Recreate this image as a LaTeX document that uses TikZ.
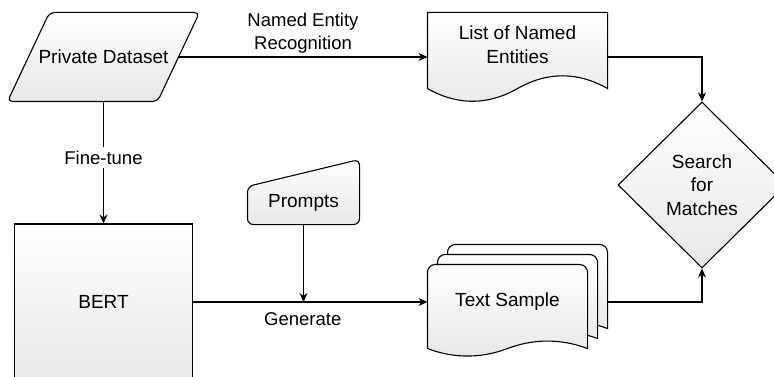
\documentclass[tikz,border=0pt]{standalone}
\usepackage{fontspec}
\setmainfont{Liberation Sans}
\usetikzlibrary{shapes.geometric,positioning,arrows.meta,backgrounds}

\tikzset{
  fillbox/.style={draw, line width=1.1pt, top color=white, bottom color=black!9},
  lbl/.style={font=\fontsize{18.5}{23}\selectfont}
}

\begin{document}
\begin{tikzpicture}[x=1pt,y=-1pt,on grid,line width=1.1pt,
  >={Stealth[length=9pt,width=8pt]},
  every node/.style={font=\fontsize{19}{23.5}\selectfont, align=center},
  proc/.style={fillbox, rectangle, minimum width=178pt, minimum height=156pt},
  decision/.style={fillbox, diamond, minimum width=168pt, minimum height=166pt}]
 \useasboundingbox (0,0) rectangle (774,377);
 \node[minimum width=149pt, minimum height=88pt] (data) at (103.5,57) {Private Dataset};
 \node[proc] (bert) [below=245pt of data] {BERT};
 \node[minimum width=179pt, minimum height=63pt] (list) [above right=12.5pt and 414pt of data] {List of Named\\Entities};
 \node[minimum width=159pt, minimum height=74pt] (sample) [right=404pt of bert] {Text Sample};
 \node[minimum width=111pt, minimum height=42pt] (prompts) [above right=99pt and 200pt of bert] {Prompts};
 \node[decision] (match) [below right=140.5pt and 184.5pt of list] {Search\\for\\Matches};
 % outlines of the data, document and input shapes
 \begin{scope}[on background layer]
  \draw[fillbox, rounded corners=5pt] ([xshift=21pt]data.north west) -- ([xshift=21pt]data.north east)
   -- ([xshift=-21pt]data.south east) -- ([xshift=-21pt]data.south west) -- cycle;
  \draw[fillbox] (list.north west) -- (list.north east) -- ([yshift=-12pt]list.south east)
   .. controls +(-30pt,17pt) and +(30pt,17pt) .. ([yshift=-12pt]list.south)
   .. controls +(-30pt,-17pt) and +(30pt,-17pt) .. ([yshift=-12pt]list.south west) -- cycle;
  \foreach \s in {20,10,0}
   \draw[fillbox, transform canvas={shift={(\s pt,\s pt)}}] ([yshift=-9pt]sample.south west)
    [rounded corners=8pt] -- (sample.north west) -- (sample.north east)
    [sharp corners] -- ([yshift=-9pt]sample.south east)
    .. controls +(-26.5pt,10pt) and +(26.5pt,10pt) .. ([yshift=-9pt]sample.south)
    .. controls +(-26.5pt,-10pt) and +(26.5pt,-10pt) .. ([yshift=-9pt]sample.south west) -- cycle;
  \draw[fillbox, rounded corners=6pt] ([yshift=-5pt]prompts.north west) -- ([yshift=22pt]prompts.north east)
   -- (prompts.south east) -- (prompts.south west) -- cycle;
 \end{scope}
 \draw[->] (data.east) -- node[lbl, above] {Named Entity\\Recognition} (data.east -| list.west);
 \draw[->] (list.east |- data.east) -| (match.north);
 \draw[->] (data.south) -- node[lbl, fill=white, pos=0.46] {Fine-tune} (bert.north);
 \draw[->] (bert.east) -- node[lbl, below=7pt, pos=0.468] {Generate} (sample.west);
 \draw[->] (prompts.south) -- (prompts.south |- bert.east);
 \draw[->] ([xshift=20pt]sample.east) -| (match.south);
\end{tikzpicture}
\end{document}
